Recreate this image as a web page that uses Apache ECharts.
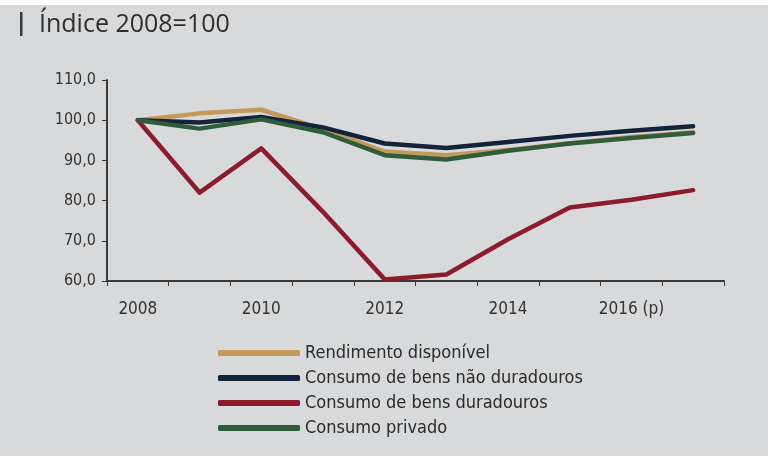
<!DOCTYPE html>
<html>
<head>
<meta charset="utf-8">
<script src="https://cdn.jsdelivr.net/npm/echarts@6/dist/echarts.min.js"></script>
<style>
html,body{margin:0;padding:0;background:#fff;}
#c{width:774px;height:458px;}
</style>
</head>
<body>
<div id="c"></div>
<script>
var years = ['2008','2009','2010','2011','2012','2013','2014','2015','2016 (p)','2017'];
var rendimento = [100, 101.7, 102.6, 97.8, 92.2, 91.3, 92.6, 94.3, 95.8, 97.0];
var naoDuradouros = [100, 99.4, 100.8, 98.2, 94.2, 93.1, 94.6, 96.1, 97.4, 98.5];
var duradouros = [100, 82.0, 93.0, 77.2, 60.4, 61.6, 70.4, 78.3, 80.2, 82.6];
var privado = [100, 97.9, 100.2, 97.0, 91.3, 90.2, 92.4, 94.2, 95.6, 96.8];
var seriesNames = ['Rendimento disponível','Consumo de bens não duradouros','Consumo de bens duradouros','Consumo privado'];
var seriesColors = ['#c49a5c','#13233a','#8c1b2b','#2f5d3b'];

var chart = echarts.init(document.getElementById('c'));
var data = [rendimento, naoDuradouros, duradouros, privado];
var narrow = "'Liberation Sans Narrow','DejaVu Sans Condensed',sans-serif";
chart.setOption({
  backgroundColor: '#ffffff',
  animation: false,
  graphic: [
    {type:'rect', z:-10, shape:{x:0,y:5,width:768,height:451}, style:{fill:'#d8d9db'}},
    {type:'rect', shape:{x:20,y:12,width:2.5,height:24}, style:{fill:'#3a3a3a'}}
  ],
  title: {
    text: 'Índice 2008=100',
    left: 34, top: 7,
    textStyle: {fontFamily:'Open Sans', fontSize:25, fontWeight:'normal', color:'#2e2e2e'}
  },
  legend: {
    orient: 'vertical',
    left: 213, top: 338,
    icon: 'roundRect',
    itemWidth: 82, itemHeight: 6, itemGap: 5,
    textStyle: {fontFamily: narrow, fontSize: 18, color:'#2a2a2a', lineHeight: 20},
    data: seriesNames
  },
  grid: {left:107, right:50, top:80, bottom:177},
  xAxis: {
    type:'category',
    data: years,
    boundaryGap: true,
    axisLine: {lineStyle:{color:'#3a3a3a', width:2}},
    axisTick: {show:true, interval:0, length:5, lineStyle:{color:'#3a3a3a', width:1}},
    axisLabel: {interval:1, margin:20, fontFamily:narrow, fontSize:17, color:'#333'}
  },
  yAxis: {
    type:'value', min:60, max:110, interval:10,
    splitLine:{show:false},
    axisLine:{show:true, lineStyle:{color:'#3a3a3a', width:2}},
    axisTick:{show:true, length:5, lineStyle:{color:'#3a3a3a', width:1}},
    axisLabel:{margin:11, fontFamily:narrow, fontSize:16, color:'#333',
      formatter:function(v){return v.toFixed(1).replace('.',',');}}
  },
  series: data.map(function(d,i){
    return {
      name: seriesNames[i], type:'line', data:d, symbol:'none',
      color: seriesColors[i],
      lineStyle:{width:4.5, color:seriesColors[i], cap:'round', join:'round'}
    };
  })
});
</script>
</body>
</html>
